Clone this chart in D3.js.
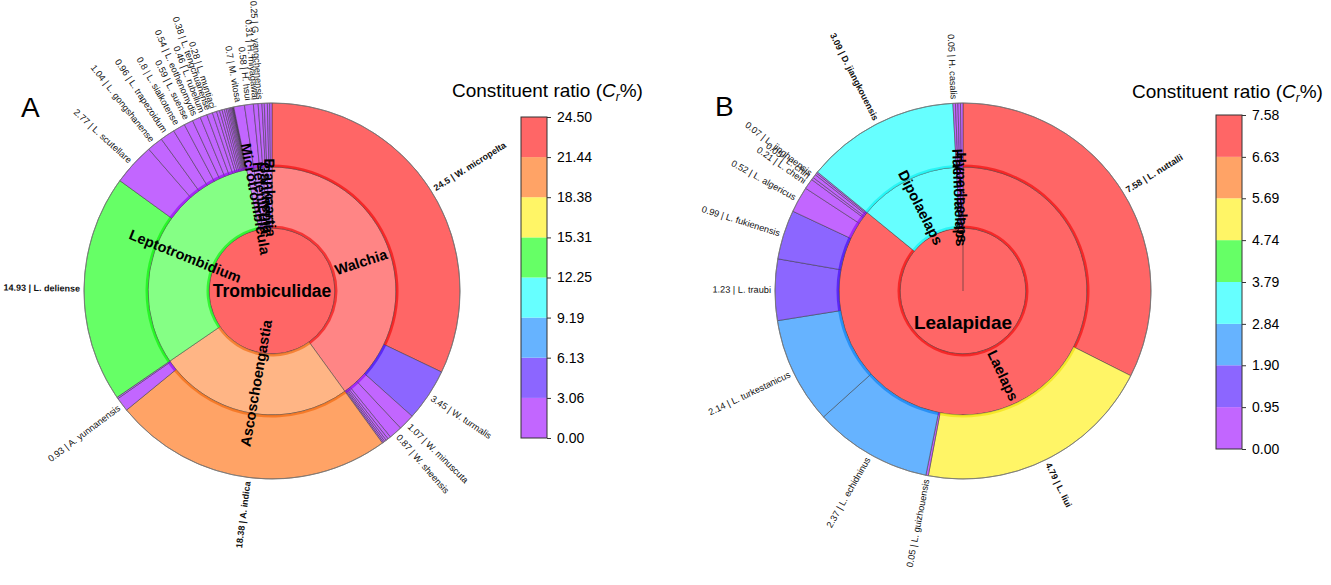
<!DOCTYPE html>
<html>
<head>
<meta charset="utf-8">
<script src="https://cdn.jsdelivr.net/npm/d3@7"></script>
<style>
  body { margin: 0; background: #fff; }
  text { font-family: "Liberation Sans", Arial, sans-serif; }
</style>
</head>
<body>
<svg id="chart" width="1331" height="585"></svg>
<script>

// ---- panel A : Trombiculidae ----
var genusA = ["Walchia", "Ascoschoengastia", "Leptotrombidium", "Microtrombicula",
              "Helenicula", "Gahrliepia", "Blankaartia"];
// null = slice too thin to carry a readable label
var speciesA = ["W. micropelta", "W. turmalis", "W. minuscuta", "W. sheensis", null, null, null, null, null,
                "A. indica", "A. yunnanensis", null,
                "L. deliense", "L. scutellare", "L. gongshanense", "L. trapezoidum", "L. sialkotense",
                "L. suense", "L. eothenomydis", "L. rubellum", "L. tengchuanense", "L. muntiaci",
                null, null, null, null, null, null, null, null, null, null, null, null,
                "M. vitosa",
                "H. hsui", "H. miyagawai",
                "G. yangchenensis", null,
                null, null, null];
var valuesA = [24.5, 3.45, 1.07, 0.87, 0.2, 0.15, 0.12, 0.1, 0.08,
               18.38, 0.93, 0.1,
               14.93, 2.77, 1.04, 0.96, 0.8, 0.59, 0.54, 0.46, 0.38, 0.28,
               0.2, 0.17, 0.15, 0.13, 0.11, 0.09, 0.08, 0.07, 0.05, 0.04, 0.03, 0.03,
               0.7,
               0.58, 0.31,
               0.25, 0.15,
               0.2, 0.15, 0.15];
var genusOfA = [0, 0, 0, 0, 0, 0, 0, 0, 0,
                1, 1, 1,
                2, 2, 2, 2, 2, 2, 2, 2, 2, 2,
                2, 2, 2, 2, 2, 2, 2, 2, 2, 2, 2, 2,
                3,
                4, 4,
                5, 5,
                6, 6, 6];
var ticksA = [0, 3.06, 6.13, 9.19, 12.25, 15.31, 18.38, 21.44, 24.50];

// ---- panel B : Laelapidae ----
var genusB = ["Laelaps", "Dipolaelaps", "Haemolaelaps", "Hyperlaelaps"];
var speciesB = ["L. nuttalli", "L. liui", "L. guizhouensis", "L. echidninus", "L. turkestanicus",
                "L. traubi", "L. fukienensis", "L. algericus", "L. cheni", "L. chin", "L. jinghaensis", null, null,
                "D. jiangkouensis",
                "H. casalis", null,
                null, null];
var valuesB = [7.58, 4.79, 0.05, 2.37, 2.14, 1.23, 0.99, 0.52, 0.21, 0.05, 0.07, 0.04, 0.03,
               3.09,
               0.05, 0.05,
               0.05, 0.05];
var genusOfB = [0, 0, 0, 0, 0, 0, 0, 0, 0, 0, 0, 0, 0,
                1,
                2, 2,
                3, 3];
var ticksB = [0, 0.95, 1.90, 2.84, 3.79, 4.74, 5.69, 6.63, 7.58];

var palette = ["#c266ff", "#8c66ff", "#66b3ff", "#66ffff", "#66ff66", "#fff566", "#ffa366", "#ff6666"];

var panels = [
  {genus: genusA, species: speciesA, values: valuesA, genusOf: genusOfA, ticks: ticksA,
   family: "Trombiculidae", letter: "A", cx: 272, cy: 291, letterX: 21, letterY: 117,
   legX: 521, legTop: 117, legBot: 438, titleX: 452, titleY: 97,
   midLighten: 0.2, rootShift: 0, rootFont: 17.5, rootLine: false},
  {genus: genusB, species: speciesB, values: valuesB, genusOf: genusOfB, ticks: ticksB,
   family: "Lealapidae", letter: "B", cx: 963, cy: 291, letterX: 715, letterY: 116,
   legX: 1216, legTop: 115, legBot: 449, titleX: 1132, titleY: 98,
   midLighten: 0, rootShift: 0.5, rootFont: 19, rootLine: true}
];

var radius = [0, 63, 124, 188];

var svg = d3.select("#chart");
svg.append("rect").attr("width", 1331).attr("height", 585).attr("fill", "#fff");

panels.forEach(drawPanel);

function bandColor(c) {
  var h = d3.hsl(c);
  return d3.hsl(h.h, 1, 0.47).toString();
}

function drawPanel(p) {
  var color = d3.scaleThreshold().domain(p.ticks.slice(1, -1)).range(palette);

  var tree = {name: p.family, children: p.genus.map(function(g) { return {name: g, children: []}; })};
  p.values.forEach(function(v, i) {
    tree.children[p.genusOf[i]].children.push({name: p.species[i], value: v});
  });

  var root = d3.hierarchy(tree).sum(function(d) { return d.children ? 0 : d.value; });
  d3.partition().size([2 * Math.PI, 3])(root);

  var topVals = p.values.slice().sort(d3.descending),
      boldCut = topVals[2];

  root.each(function(d) {
    if (!d.children) {
      d.fill = color(d.data.value);
      d.base = d.fill;
    } else {
      var big = d3.max(d.leaves(), function(l) { return l.data.value; });
      d.base = color(big);
      d.fill = d.depth == 1 ? d3.interpolateRgb(d.base, "#fff")(p.midLighten) : d.base;
    }
  });

  var g = svg.append("g").attr("transform", "translate(" + p.cx + "," + p.cy + ")");

  var arc = d3.arc()
    .startAngle(function(d) { return d.x0; })
    .endAngle(function(d) { return d.x1; })
    .innerRadius(function(d) { return radius[d.depth]; })
    .outerRadius(function(d) { return radius[d.depth + 1]; });

  var band = d3.arc()
    .startAngle(function(d) { return d.x0; })
    .endAngle(function(d) { return d.x1; })
    .innerRadius(function(d) { return radius[d.depth]; })
    .outerRadius(function(d) { return radius[d.depth] + 2.5; });

  var nodes = root.descendants();

  g.selectAll("path.seg")
    .data(nodes)
    .enter().append("path")
      .attr("class", "seg")
      .attr("d", arc)
      .attr("fill", function(d) { return d.fill; })
      .attr("stroke", "#333")
      .attr("stroke-opacity", 0.8)
      .attr("stroke-width", 0.6);

  if (p.rootLine) {
    g.append("line")
      .attr("x1", 0).attr("y1", 0)
      .attr("x2", 0).attr("y2", -radius[1])
      .attr("stroke", "#333").attr("stroke-width", 0.6);
  }

  g.selectAll("path.band")
    .data(nodes.filter(function(d) { return d.depth > 0; }))
    .enter().append("path")
      .attr("class", "band")
      .attr("d", band)
      .attr("fill", function(d) { return bandColor(d.base); })
      .attr("fill-opacity", 0.6);

  g.append("circle")
    .attr("r", radius[3])
    .attr("fill", "none")
    .attr("stroke", "#777")
    .attr("stroke-width", 0.8);

  function angleDeg(d) { return (d.x0 + d.x1) / 2 * 180 / Math.PI; }

  // genus labels in the middle ring
  var rMid = (radius[1] + radius[2]) / 2;
  g.selectAll("text.genus")
    .data(root.children)
    .enter().append("text")
      .attr("class", "genus")
      .attr("transform", function(d) {
        var a = angleDeg(d);
        return "rotate(" + (a - 90) + ") translate(" + rMid + ",0)" + (a > 180 ? " rotate(180)" : "");
      })
      .attr("text-anchor", "middle")
      .attr("dy", "0.35em")
      .style("font-size", "14.5px")
      .style("font-weight", "bold")
      .text(function(d) { return d.data.name; });

  // species labels outside
  var rOut = radius[3] + 4;
  g.selectAll("text.sp")
    .data(root.leaves().filter(function(d) { return d.data.name; }))
    .enter().append("text")
      .attr("class", "sp")
      .attr("transform", function(d) {
        var a = angleDeg(d);
        return "rotate(" + (a - 90) + ") translate(" + rOut + ",0)" + (a > 180 ? " rotate(180)" : "");
      })
      .attr("text-anchor", function(d) { return angleDeg(d) > 180 ? "end" : "start"; })
      .attr("dy", "0.35em")
      .attr("fill", "#111")
      .style("font-size", function(d) { return d.data.value >= boldCut ? "9px" : "9.2px"; })
      .style("font-weight", function(d) { return d.data.value >= boldCut ? "bold" : "normal"; })
      .text(function(d) { return d.data.value + " | " + d.data.name; });

  // family label
  g.append("text")
    .attr("x", 0)
    .attr("y", radius[1] * p.rootShift)
    .attr("text-anchor", "middle")
    .attr("dy", "0.35em")
    .style("font-size", p.rootFont + "px")
    .style("font-weight", "bold")
    .text(p.family);

  // panel letter
  svg.append("text")
    .attr("x", p.letterX)
    .attr("y", p.letterY)
    .style("font-size", "28px")
    .text(p.letter);

  // colour bar
  var y = d3.scaleLinear().domain([0, p.ticks[p.ticks.length - 1]]).range([p.legBot, p.legTop]),
      barW = 26;
  var leg = svg.append("g");
  leg.selectAll("rect.bin")
    .data(palette)
    .enter().append("rect")
      .attr("class", "bin")
      .attr("x", p.legX)
      .attr("y", function(c, i) { return y(p.ticks[i + 1]); })
      .attr("width", barW)
      .attr("height", function(c, i) { return y(p.ticks[i]) - y(p.ticks[i + 1]); })
      .attr("fill", function(c) { return c; });
  leg.append("rect")
    .attr("x", p.legX).attr("y", p.legTop)
    .attr("width", barW).attr("height", p.legBot - p.legTop)
    .attr("fill", "none").attr("stroke", "#333").attr("stroke-width", 1);

  var ax = leg.append("g")
    .attr("transform", "translate(" + (p.legX + barW) + ",0)")
    .call(d3.axisRight(y).tickValues(p.ticks).tickFormat(d3.format(".2f")).tickSize(4).tickPadding(6));
  ax.select(".domain").remove();
  ax.selectAll("line").attr("stroke", "#333");
  ax.selectAll("text")
    .style("font-size", "14px")
    .style("font-family", "'Liberation Sans', Arial, sans-serif")
    .attr("fill", "#000");

  var t = svg.append("text")
    .attr("x", p.titleX)
    .attr("y", p.titleY)
    .style("font-size", "19px");
  t.append("tspan").text("Constituent ratio (");
  t.append("tspan").style("font-style", "italic").text("C");
  t.append("tspan").style("font-style", "italic").style("font-size", "12px").attr("dy", 4).text("r");
  t.append("tspan").attr("dy", -4).text("%)");
}
</script>
</body>
</html>
